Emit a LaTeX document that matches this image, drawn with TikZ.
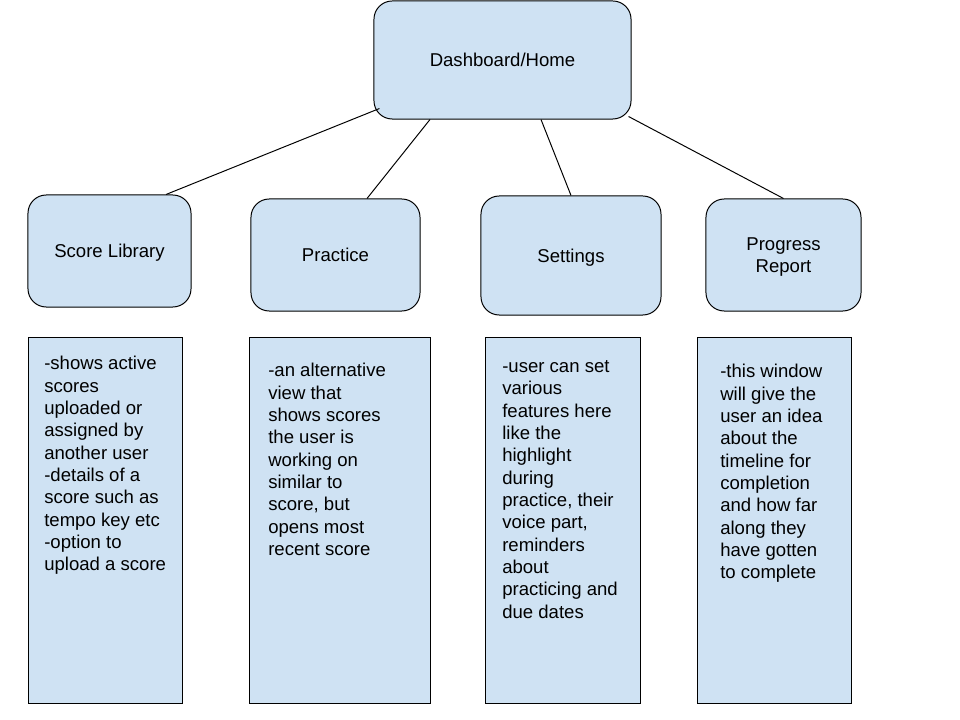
\documentclass[tikz,border=0pt]{standalone}
\usepackage{fontspec}
\setmainfont{Liberation Sans}
\usepackage{xcolor}
\usepackage{tikz}
\usetikzlibrary{calc}
\definecolor{boxblue}{HTML}{CFE2F3}

\begin{document}
\begin{tikzpicture}[x=0.025cm, y=-0.025cm,
	menubox/.style={shape=rectangle, rounded corners=13pt, draw=black, fill=boxblue, line width=0.7pt, align=center, text depth=0pt, font=\fontsize{13.2}{15.9}\selectfont},
	notebox/.style={shape=rectangle, draw=black, fill=boxblue, line width=0.7pt, anchor=north west, minimum height=9.15cm},
	notetext/.style={anchor=north west, inner sep=0pt, align=left, font=\fontsize{13.2}{15.9}\selectfont}]

	\useasboundingbox (0,0) rectangle (960,720);

	\node[menubox, minimum width=6.425cm, minimum height=2.95cm] (Home) at (502.5, 60) {Dashboard/Home};
	\node[menubox, minimum width=4.075cm, minimum height=2.8cm] (Library) at (109.5, 251) {Score Library};
	\node[menubox, minimum width=4.225cm, minimum height=2.8cm] (Practice) at (335.5, 255) {Practice};
	\node[menubox, minimum width=4.5cm, minimum height=2.975cm] (Settings) at (571, 255.5) {Settings};
	\node[menubox, minimum width=3.875cm, minimum height=2.8cm] (Progress) at (783.5, 255) {Progress\\Report};

	\draw[line width=0.7pt] ($(Home.south west)+(6,-11)$) -- ($(Library.north)+(56.5,0)$);
	\draw[line width=0.7pt] ($(Home.south)+(-72.5,0)$) -- ($(Practice.north)+(31.5,0)$);
	\draw[line width=0.7pt] ($(Home.south)+(38.5,0)$) -- (Settings.north);
	\draw[line width=0.7pt] ($(Home.south east)+(-3,-3)$) -- (Progress.north);

	\node[notebox, minimum width=3.85cm] (LibraryBox) at (28, 337) {};
	\node[notebox, minimum width=4.525cm] (PracticeBox) at (249, 337) {};
	\node[notebox, minimum width=3.875cm] (SettingsBox) at (485, 337) {};
	\node[notebox, minimum width=3.85cm] (ProgressBox) at (697, 337) {};

	\node[notetext] (LibraryText) at (44, 356) {-shows active\\scores\\uploaded or\\assigned by\\another user\\-details of a\\score such as\\tempo key etc\\-option to\\upload a score};
	\node[notetext] (PracticeText) at (268, 363) {-an alternative\\view that\\shows scores\\the user is\\working on\\similar to\\score, but\\opens most\\recent score};
	\node[notetext] (SettingsText) at (502, 360) {-user can set\\various\\features here\\like the\\highlight\\during\\practice, their\\voice part,\\reminders\\about\\practicing and\\due dates};
	\node[notetext] (ProgressText) at (720, 364) {-this window\\will give the\\user an idea\\about the\\timeline for\\completion\\and how far\\along they\\have gotten\\to complete};

\end{tikzpicture}
\end{document}
